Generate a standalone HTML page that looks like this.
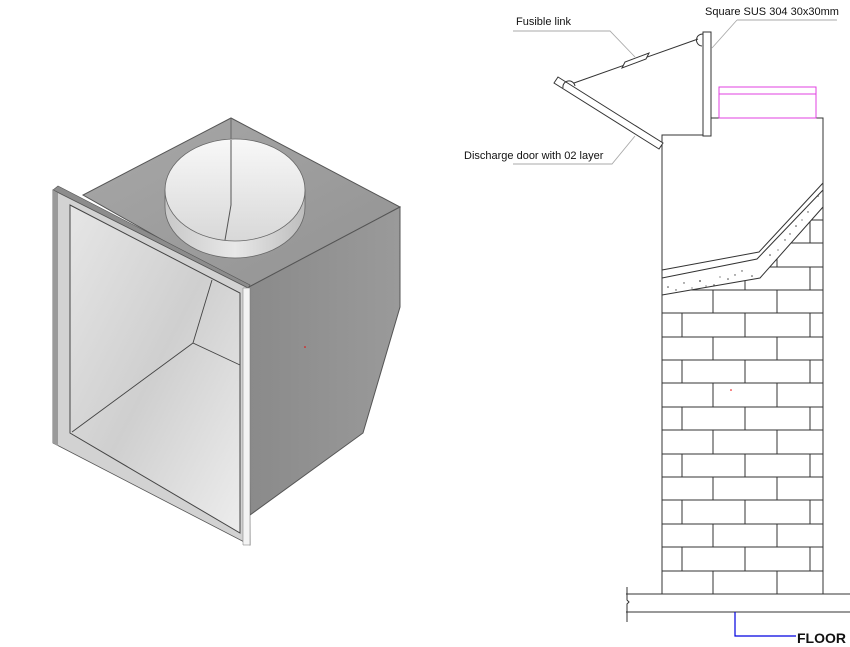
<!DOCTYPE html>
<html><head><meta charset="utf-8"><style>
html,body{margin:0;padding:0;background:#fff;}
svg{display:block;}
text{font-family:"Liberation Sans",sans-serif;}
</style></head><body>
<svg width="850" height="647" viewBox="0 0 850 647" xmlns="http://www.w3.org/2000/svg">
<defs>
<linearGradient id="top" x1="0" y1="0" x2="1" y2="1"><stop offset="0" stop-color="#a8a8a8"/><stop offset="1" stop-color="#929292"/></linearGradient>
<linearGradient id="right" x1="0" y1="0" x2="1" y2="0"><stop offset="0" stop-color="#8a8a8a"/><stop offset="1" stop-color="#9a9a9a"/></linearGradient>
<linearGradient id="inner" x1="0" y1="0" x2="1" y2="1"><stop offset="0" stop-color="#e6e6e6"/><stop offset="0.5" stop-color="#cfcfcf"/><stop offset="1" stop-color="#ededed"/></linearGradient>
<linearGradient id="disc" x1="0" y1="0" x2="0" y2="1"><stop offset="0" stop-color="#f8f8f8"/><stop offset="1" stop-color="#d8d8d8"/></linearGradient>
<linearGradient id="cyl" x1="0" y1="0" x2="1" y2="0"><stop offset="0" stop-color="#c8c8c8"/><stop offset="0.5" stop-color="#e8e8e8"/><stop offset="1" stop-color="#bdbdbd"/></linearGradient>
<clipPath id="brk"><polygon points="662,295 760,278 823,207 823,594 662,594"/></clipPath>
</defs>

<polygon points="231,118 400,207 247,288 83,195" fill="url(#top)" stroke="#555" stroke-width="1"/>
<polygon points="247,288 400,207 400,307 363,433 250,515" fill="url(#right)" stroke="#555" stroke-width="1"/>
<line x1="231" y1="118" x2="231" y2="160" stroke="#666"/>
<path d="M165,190 L165,207 A70,51 0 0 0 305,207 L305,190 Z" fill="url(#cyl)" stroke="#666" stroke-width="0.8"/>
<ellipse cx="235" cy="190" rx="70" ry="51" fill="url(#disc)" stroke="#666" stroke-width="0.8"/>
<path d="M231,140 L231,205 L225,240" fill="none" stroke="#555" stroke-width="1"/>
<polygon points="53,190 58,186 250,285 248,288" fill="#8c8c8c" stroke="#555" stroke-width="0.6"/>
<polygon points="53,190 248,288 250,545 53,443" fill="#d2d2d2" stroke="#555" stroke-width="0.8"/>
<polygon points="243,288 250,288 250,545 243,545" fill="#f4f4f4" stroke="#777" stroke-width="0.5"/>
<polygon points="53,190 58,193 58,446 53,443" fill="#9a9a9a"/>
<polygon points="70,205 240,293 240,533 70,433" fill="url(#inner)" stroke="#444" stroke-width="1"/>
<polyline points="212,280 193,343 240,365" fill="none" stroke="#444" stroke-width="0.9"/>
<line x1="193" y1="343" x2="72" y2="432" stroke="#444" stroke-width="0.9"/>
<circle cx="305" cy="347" r="0.8" fill="#e00"/>

<g stroke="#333" stroke-width="1" fill="none">
<polyline points="662,594 662,135 703,135"/>
<polyline points="711,118 823,118 823,594"/>
<rect x="703" y="32" width="8" height="104" fill="#fff"/>
<rect x="719" y="87" width="97" height="31" stroke="#e040e0"/>
<line x1="719" y1="94" x2="816" y2="94" stroke="#e040e0"/>
<polygon points="554,83 558,77 663,143 659,149" fill="#fff"/>
<path d="M563,88 a6,6 0 1 1 12,-2" />
<path d="M702,46 a6,6 0 0 1 1,-12" />
<line x1="574" y1="83" x2="698" y2="39"/>
<polygon points="622,68 625,62 649,53 646,59" fill="#fff"/>
<polyline points="662,270 759,252 823,183"/>
<polyline points="662,278 757,259 823,190"/>
<polyline points="662,295 760,278 823,207"/>
</g>
<g fill="#444">
<circle cx="668" cy="287" r="0.8"/><circle cx="684" cy="283" r="0.7"/><circle cx="700" cy="281" r="0.9"/><circle cx="714" cy="285" r="0.7"/><circle cx="728" cy="279" r="0.8"/><circle cx="742" cy="271" r="0.7"/><circle cx="752" cy="276" r="0.8"/><circle cx="770" cy="255" r="0.8"/><circle cx="785" cy="240" r="0.7"/><circle cx="796" cy="226" r="0.8"/><circle cx="808" cy="212" r="0.7"/><circle cx="818" cy="196" r="0.8"/><circle cx="692" cy="288" r="0.6"/><circle cx="720" cy="277" r="0.6"/><circle cx="676" cy="290" r="0.7"/><circle cx="706" cy="286" r="0.6"/><circle cx="735" cy="275" r="0.7"/><circle cx="778" cy="250" r="0.6"/><circle cx="802" cy="220" r="0.6"/><circle cx="790" cy="234" r="0.7"/>
</g>
<g clip-path="url(#brk)" stroke="#333" stroke-width="1">
<line x1="662" y1="571" x2="823" y2="571"/><line x1="662" y1="547" x2="823" y2="547"/><line x1="662" y1="524" x2="823" y2="524"/><line x1="662" y1="500" x2="823" y2="500"/><line x1="662" y1="477" x2="823" y2="477"/><line x1="662" y1="454" x2="823" y2="454"/><line x1="662" y1="430" x2="823" y2="430"/><line x1="662" y1="407" x2="823" y2="407"/><line x1="662" y1="383" x2="823" y2="383"/><line x1="662" y1="360" x2="823" y2="360"/><line x1="662" y1="337" x2="823" y2="337"/><line x1="662" y1="313" x2="823" y2="313"/><line x1="662" y1="290" x2="823" y2="290"/><line x1="662" y1="267" x2="823" y2="267"/><line x1="662" y1="243" x2="823" y2="243"/><line x1="662" y1="220" x2="823" y2="220"/>
<path d="M713,571V594M777,571V594M713,524V547M777,524V547M713,477V500M777,477V500M713,430V454M777,430V454M713,383V407M777,383V407M713,337V360M777,337V360M713,290V313M777,290V313M713,243V267M777,243V267"/>
<path d="M682,547V571M745,547V571M810,547V571M682,500V524M745,500V524M810,500V524M682,454V477M745,454V477M810,454V477M682,407V430M745,407V430M810,407V430M682,360V383M745,360V383M810,360V383M682,313V337M745,313V337M810,313V337M682,267V290M745,267V290M810,267V290M682,220V243M745,220V243M810,220V243"/>
</g>
<g stroke="#333" stroke-width="1" fill="none">
<line x1="626" y1="594" x2="850" y2="594"/>
<line x1="626" y1="612" x2="850" y2="612"/>
<polyline points="627,587 627,600 629,602 627,604 627,622"/>
</g>
<polyline points="735,612 735,636 796,636" fill="none" stroke="#0000e0" stroke-width="1.2"/>
<text x="797" y="643" font-size="14" font-weight="bold" fill="#111">FLOOR</text>

<g stroke="#aaa" stroke-width="0.9" fill="none">
<polyline points="513,31 610,31 635,57"/>
<polyline points="737,20 837,20"/><line x1="737" y1="20" x2="712" y2="48"/>
<polyline points="513,164 612,164 635,136"/>
</g>
<text x="516" y="25" font-size="11" fill="#111">Fusible link</text>
<text x="705" y="15" font-size="11" fill="#111">Square SUS 304 30x30mm</text>
<text x="464" y="159" font-size="11" fill="#111">Discharge door with 02 layer</text>
<circle cx="731" cy="390" r="0.8" fill="#e00"/>
</svg>
</body></html>
